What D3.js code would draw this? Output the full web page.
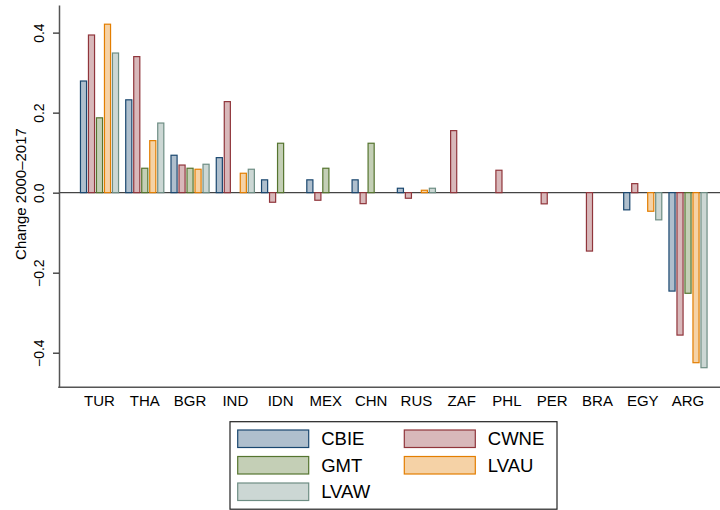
<!DOCTYPE html>
<html><head><meta charset="utf-8">
<script src="https://cdn.jsdelivr.net/npm/d3@7"></script>
<style>body{margin:0;background:#fff}svg{display:block;font-family:"Liberation Sans",Arial,sans-serif}</style>
</head><body><svg id="c" width="720" height="510"></svg>
<script>
const countries = ["TUR","THA","BGR","IND","IDN","MEX","CHN","RUS","ZAF","PHL","PER","BRA","EGY","ARG"];
const seriesNames = ["CBIE","CWNE","GMT","LVAU","LVAW"];
const CBIE = [0.279,0.232,0.0935,0.0875,0.032,0.032,0.032,0.011,0,0,0,0,-0.043,-0.246];
const CWNE = [0.394,0.340,0.069,0.2275,-0.024,-0.019,-0.0275,-0.014,0.155,0.056,-0.028,-0.146,0.0225,-0.356];
const GMT  = [0.187,0.061,0.061,0,0.1235,0.061,0.1235,0,0,0,0,0,0,-0.2515];
const LVAU = [0.421,0.130,0.0585,0.0485,0,0,0,0.006,0,0,0,0,-0.0465,-0.425];
const LVAW = [0.349,0.174,0.071,0.0585,0,0,0,0.011,0,0,0,0,-0.068,-0.4375];
const yTicks = [-0.4,-0.2,0,0.2,0.4];
const strokeColors = ["#1a476f","#90353b","#55752f","#e37e00","#6e8e84"];
const fillColors = ["#afbfcd","#d8b8ba","#c4cfb6","#f5d2a6","#ccd7d4"];
const seriesValues = [CBIE,CWNE,GMT,LVAU,LVAW];

const svg = d3.select("#c");
const axisX = 59, plotRight = 720, plotTop = 5, plotBottom = 387.3;
const y = d3.scaleLinear().domain([-0.4865, 0.469]).range([plotBottom, plotTop]);
const x0 = d3.scaleBand().domain(countries).range([76.87, 710.65]).padding(0);
const groupW = 38.1;
const x1 = d3.scaleBand().domain(seriesNames).range([0, groupW]).paddingInner(0.2375).paddingOuter(0);
const off = (x0.bandwidth() - groupW) / 2;

// zero line
svg.append("line").attr("x1", axisX).attr("x2", plotRight).attr("y1", y(0)).attr("y2", y(0))
  .attr("stroke", "#444").attr("stroke-width", 1.3);

// bars
const data = [];
countries.forEach((c, i) => seriesNames.forEach((s, j) => {
  const v = seriesValues[j][i];
  if (v !== 0) data.push({c, s, j, v});
}));
svg.append("g").selectAll("rect").data(data).join("rect")
  .attr("x", d => x0(d.c) + off + x1(d.s))
  .attr("width", x1.bandwidth())
  .attr("y", d => Math.min(y(d.v), y(0)))
  .attr("height", d => Math.abs(y(d.v) - y(0)))
  .attr("fill", d => fillColors[d.j])
  .attr("stroke", d => strokeColors[d.j])
  .attr("stroke-width", 1.2);

// y axis
const ya = svg.append("g").attr("transform", `translate(${axisX},0)`)
  .call(d3.axisLeft(y).tickValues(yTicks).tickFormat(d3.format(".1f")).tickSize(6).tickSizeOuter(0));
ya.select(".domain").attr("stroke", "#555").attr("stroke-width", 1.5);
ya.selectAll(".tick line").attr("stroke", "#222").attr("stroke-width", 1.2);
ya.selectAll(".tick text").attr("x", 0).attr("y", -15.5).attr("dy", 0)
  .attr("transform", "rotate(-90)").attr("text-anchor", "middle")
  .attr("font-size", 14).attr("fill", "#000").attr("font-family", "Liberation Sans, Arial, sans-serif");

svg.append("text").attr("transform", "translate(26,194) rotate(-90)").attr("text-anchor", "middle")
  .attr("font-size", 15).attr("fill", "#000").text("Change 2000–2017");

// x axis
const xa = svg.append("g").attr("transform", `translate(0,${plotBottom})`)
  .call(d3.axisBottom(x0).tickSize(0));
xa.select(".domain").remove();
xa.selectAll(".tick text").attr("y", 19.2).attr("dy", 0).attr("font-size", 15).attr("fill", "#000")
  .attr("font-family", "Liberation Sans, Arial, sans-serif");
svg.append("line").attr("x1", axisX - 0.75).attr("x2", plotRight).attr("y1", plotBottom).attr("y2", plotBottom)
  .attr("stroke", "#555").attr("stroke-width", 1.5);

// legend
const lg = svg.append("g");
lg.append("rect").attr("x", 230).attr("y", 421.7).attr("width", 327).attr("height", 87.5)
  .attr("fill", "#fff").attr("stroke", "#222").attr("stroke-width", 1.2);
const colX = [237.7, 404.3], rowY = [430, 456.5, 483];
seriesNames.forEach((s, j) => {
  const cx = colX[j % 2], ry = rowY[Math.floor(j / 2)];
  lg.append("rect").attr("x", cx).attr("y", ry).attr("width", 71).attr("height", 17.5)
    .attr("fill", fillColors[j]).attr("stroke", strokeColors[j]).attr("stroke-width", 1.2);
  lg.append("text").attr("x", cx + 83.5).attr("y", ry + 15.2).attr("font-size", 18.5).attr("fill", "#000").text(s);
});
</script></body></html>
